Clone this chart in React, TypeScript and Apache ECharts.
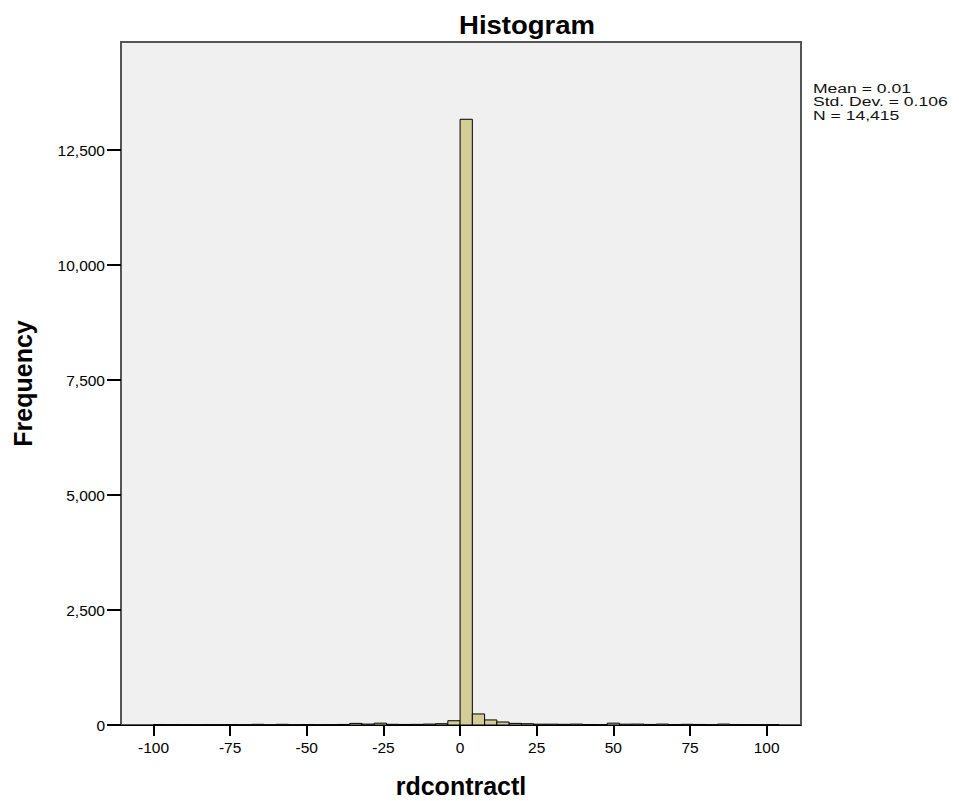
import React, { useEffect, useRef } from "react";
import * as echarts from "echarts";

const binWidth = 4;
const binStarts = [
  -100, -96, -92, -88, -84, -80, -76, -72, -68, -64, -60, -56, -52, -48, -44, -40, -36, -32, -28, -24, -20, -16, -12, -8, -4,
  0, 4, 8, 12, 16, 20, 24, 28, 32, 36, 40, 44, 48, 52, 56, 60, 64, 68, 72, 76, 80, 84, 88, 92, 96, 100,
];
const counts = [
  10, 8, 6, 5, 8, 6, 10, 6, 15, 4, 15, 5, 10, 6, 8, 12, 35, 20, 40, 15, 12, 14, 20, 28, 93,
  13170, 240, 110, 65, 35, 28, 18, 18, 15, 20, 10, 8, 40, 18, 20, 12, 20, 10, 15, 12, 8, 20, 10, 8, 6, 8,
];
const yTicks = [0, 2500, 5000, 7500, 10000, 12500];
const xTicks = [-100, -75, -50, -25, 0, 25, 50, 75, 100];
const statsLines = ["Mean = 0.01", "Std. Dev. = 0.106", "N = 14,415"];
const titleText = "Histogram";
const xName = "rdcontractl";
const yName = "Frequency";

const FONT = "'Liberation Sans', Arial, sans-serif";

export default function App() {
  const ref = useRef<HTMLDivElement>(null);
  useEffect(() => {
    if (!ref.current) return;
    const chart = echarts.init(ref.current, null, { renderer: "svg" });
    const data = binStarts.map((s, i) => [s, s + binWidth, counts[i]]);
    chart.setOption({
      animation: false,
      backgroundColor: "#ffffff",
      textStyle: { fontFamily: FONT },
      grid: {
        left: 121,
        right: 158,
        top: 42,
        bottom: 76,
        show: true,
        backgroundColor: "#f0f0f0",
        borderColor: "#555555",
        borderWidth: 2,
        outerBoundsMode: "none",
      },
      xAxis: {
        type: "value",
        min: -110.6,
        max: 111.2,
        name: xName,
        nameLocation: "middle",
        nameGap: 48,
        nameTextStyle: { fontFamily: FONT, fontSize: 25, fontWeight: "bold", color: "#000" },
        axisLine: { show: true, onZero: false, lineStyle: { color: "#000", width: 1 } },
        axisTick: { show: true, length: 11, lineStyle: { color: "#000", width: 2 }, customValues: xTicks },
        axisLabel: { fontFamily: FONT, fontSize: 15.5, color: "#000", margin: 14, customValues: xTicks },
        splitLine: { show: false },
      },
      yAxis: {
        type: "value",
        min: 0,
        max: 14850,
        name: yName,
        nameLocation: "middle",
        nameGap: 86,
        nameTextStyle: { fontFamily: FONT, fontSize: 25, fontWeight: "bold", color: "#000" },
        axisLine: { show: false, onZero: false },
        axisTick: { show: true, length: 14, lineStyle: { color: "#000", width: 2 }, customValues: yTicks },
        axisLabel: {
          fontFamily: FONT,
          fontSize: 15.5,
          color: "#000",
          margin: 16,
          customValues: yTicks,
          formatter: (v: number) => v.toLocaleString("en-US"),
        },
        splitLine: { show: false },
      },
      graphic: [
        {
          type: "text",
          x: 527,
          y: 25,
          scaleX: 1.1,
          style: {
            text: titleText,
            font: `bold 25px ${FONT}`,
            fill: "#000",
            align: "center",
            verticalAlign: "middle",
          },
        },
        ...statsLines.map((line, i) => ({
          type: "text",
          x: 813,
          y: 88 + i * 13.5,
          scaleX: 1.3,
          style: {
            text: line,
            font: `13.5px ${FONT}`,
            fill: "#111",
            align: "left",
            verticalAlign: "middle",
          },
        })),
      ],
      series: [
        {
          type: "custom",
          data,
          encode: { x: [0, 1], y: 2 },
          renderItem: (params: any, api: any) => {
            const x0 = api.value(0);
            const x1 = api.value(1);
            const y = api.value(2);
            const p0 = api.coord([x0, y]);
            const p1 = api.coord([x1, 0]);
            return {
              type: "rect",
              shape: { x: p0[0], y: p0[1], width: p1[0] - p0[0], height: p1[1] - p0[1] },
              style: { fill: "#d3ce97", stroke: "#000000", lineWidth: 1 },
            };
          },
        },
      ],
    });
    return () => chart.dispose();
  }, []);
  return (
    <div
      ref={ref}
      style={{ position: "absolute", left: 0, top: 0, width: 959, height: 801 }}
    />
  );
}
